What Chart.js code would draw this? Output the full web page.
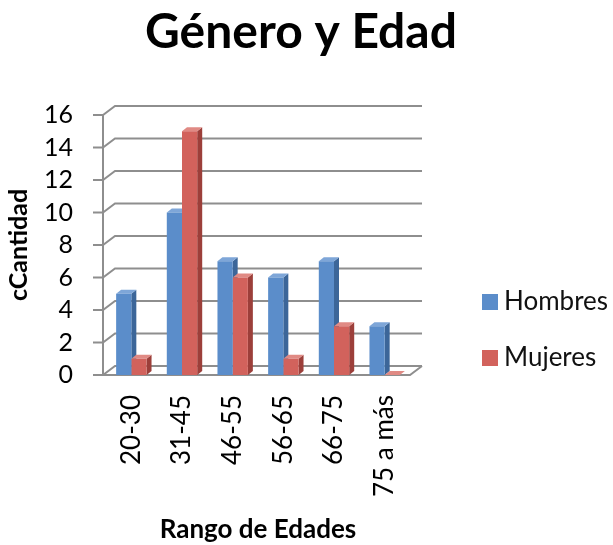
<!DOCTYPE html>
<html>
<head>
<meta charset="utf-8">
<script src="https://cdn.jsdelivr.net/npm/chart.js@4"></script>
<style>
  body { margin: 0; background: #fff; }
  #wrap { width: 613px; height: 545px; }
</style>
</head>
<body>
<div id="wrap"><canvas id="chart" width="613" height="545"></canvas></div>
<script>
const categories = ["20-30", "31-45", "46-55", "56-65", "66-75", "75 a más"];
const hombres = [5, 10, 7, 6, 7, 3];
const mujeres = [1, 15, 6, 1, 3, 0];
const yTicks = [0, 2, 4, 6, 8, 10, 12, 14, 16];

const FONT = "Lato, 'Open Sans', sans-serif";
const colors = {
  Hombres: { front: "#5b8dca", side: "#3c6699", top: "#7ea6d8" },
  Mujeres: { front: "#d2625c", side: "#9c3f3a", top: "#e08a84" }
};

// back wall + floor with a slanted depth, like the old excel 3d charts
const wallPlugin = {
  id: "wall",
  beforeDatasetsDraw(chart) {
    const ctx = chart.ctx;
    const area = chart.chartArea;
    const y = chart.scales.y;
    const dx = 12, dy = 9;
    const axisX = area.left - 3;
    ctx.save();
    ctx.strokeStyle = "#8e8e8e";
    ctx.lineWidth = 2;
    yTicks.forEach(v => {
      const py = y.getPixelForValue(v);
      ctx.beginPath();
      ctx.moveTo(axisX - 10, py);
      ctx.lineTo(axisX, py);
      ctx.lineTo(axisX + dx, py - dy);
      ctx.lineTo(area.right + dx, py - dy);
      ctx.stroke();
    });
    // front axis + floor
    const base = y.getPixelForValue(0);
    ctx.beginPath();
    ctx.moveTo(axisX, y.getPixelForValue(16));
    ctx.lineTo(axisX, base);
    ctx.lineTo(area.right, base);
    ctx.lineTo(area.right + dx, base - dy);
    ctx.stroke();

    // depth faces of bars, drawn behind the front faces
    const d = 5, dd = 4;
    chart.data.datasets.forEach((ds, i) => {
      const c = colors[ds.label];
      chart.getDatasetMeta(i).data.forEach(bar => {
        const l = bar.x - bar.width / 2, r = bar.x + bar.width / 2;
        ctx.fillStyle = c.side;
        ctx.beginPath();
        ctx.moveTo(r, bar.y);
        ctx.lineTo(r + d, bar.y - dd);
        ctx.lineTo(r + d, bar.base - dd);
        ctx.lineTo(r, bar.base);
        ctx.closePath();
        ctx.fill();
        ctx.fillStyle = c.top;
        ctx.beginPath();
        ctx.moveTo(l, bar.y);
        ctx.lineTo(l + d, bar.y - dd);
        ctx.lineTo(r + d, bar.y - dd);
        ctx.lineTo(r, bar.y);
        ctx.closePath();
        ctx.fill();
      });
    });
    ctx.restore();
  }
};

// title + legend drawn by hand so they sit where the reference has them
const textPlugin = {
  id: "texts",
  afterDraw(chart) {
    const ctx = chart.ctx;
    ctx.save();
    ctx.fillStyle = "#000";
    ctx.font = "bold 48px " + FONT;
    ctx.textAlign = "center";
    ctx.textBaseline = "alphabetic";
    ctx.fillText("Género y Edad", 301, 48);

    const rows = [302, 358];
    ctx.textAlign = "left";
    ctx.font = "26px " + FONT;
    ctx.textBaseline = "middle";
    chart.data.datasets.forEach((ds, i) => {
      ctx.fillStyle = colors[ds.label].front;
      ctx.fillRect(482, rows[i] - 8, 16, 16);
      ctx.fillStyle = "#111";
      ctx.fillText(ds.label, 504, rows[i]);
    });
    ctx.restore();
  }
};

const ctx = document.getElementById("chart").getContext("2d");

new Chart(ctx, {
  type: "bar",
  data: {
    labels: categories,
    datasets: [
      { label: "Hombres", data: hombres, backgroundColor: colors.Hombres.front },
      { label: "Mujeres", data: mujeres, backgroundColor: colors.Mujeres.front }
    ]
  },
  options: {
    responsive: false,
    animation: false,
    layout: { padding: { left: 0, right: 203, top: 115, bottom: 0 } },
    datasets: { bar: { categoryPercentage: 0.6, barPercentage: 1 } },
    plugins: {
      legend: { display: false },
      tooltip: { enabled: false },
      title: { display: false }
    },
    scales: {
      x: {
        afterFit(scale) { scale.height = 545 - 375; },
        grid: { display: false },
        border: { display: false },
        ticks: {
          color: "#000",
          font: { family: FONT, size: 26 },
          maxRotation: 90,
          minRotation: 90,
          autoSkip: false,
          padding: 12
        },
        title: {
          display: true,
          text: "Rango de Edades",
          color: "#000",
          font: { family: FONT, size: 26, weight: "bold" },
          padding: { top: 0, bottom: 0 }
        }
      },
      y: {
        min: 0,
        max: 16,
        afterFit(scale) { scale.width = 106; },
        grid: { display: false },
        border: { display: false },
        ticks: {
          stepSize: 2,
          autoSkip: false,
          color: "#000",
          font: { family: FONT, size: 25 },
          padding: 25
        },
        title: {
          display: true,
          text: "cCantidad",
          color: "#000",
          font: { family: FONT, size: 25, weight: "bold" },
          padding: { top: 4, bottom: 0 }
        }
      }
    }
  },
  plugins: [wallPlugin, textPlugin]
});
</script>
</body>
</html>
